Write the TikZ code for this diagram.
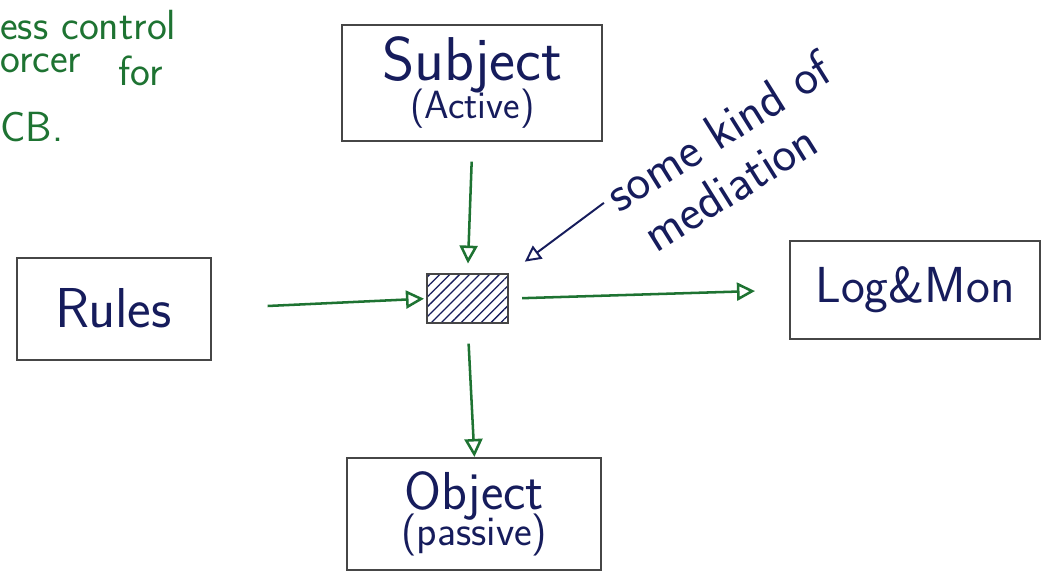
\documentclass[tikz,border=0pt]{standalone}
\usetikzlibrary{arrows.meta,patterns.meta}
\definecolor{pengreen}{RGB}{30,115,50}
\definecolor{penblue}{RGB}{22,28,92}
\definecolor{pencil}{RGB}{70,70,70}
\begin{document}
\begin{tikzpicture}[
  box/.style={draw=pencil,line width=1.5pt,text=penblue,align=center,font=\sffamily},
  flow/.style={draw=pengreen,line width=1.8pt,-{Triangle[open,length=4.5mm,width=4.5mm]}},
  note/.style={text=penblue,font=\sffamily\fontsize{36}{40}\selectfont,rotate=32,inner sep=1pt},
  scrap/.style={text=pengreen,font=\sffamily\fontsize{30}{34}\selectfont,anchor=west,inner sep=0pt}
]
\useasboundingbox (0,0) rectangle (26.35,14.625);

% cut-off text at the top left
\node[scrap] (scrapa) at (0,14.0) {ess control};
\node[scrap] (scrapb) at (0,13.05) {orcer};
\node[scrap] (scrapc) at (2.95,12.85) {for};
\node[scrap] (scrapd) at (0,11.45) {CB.};

% the boxes
\node[box,minimum width=6.5cm,minimum height=2.9cm] (subject) at (11.81,12.56)
  {{\fontsize{44}{40}\selectfont Subject}\\[-4pt]{\fontsize{28}{30}\selectfont (Active)}};
\node[box,minimum width=4.85cm,minimum height=2.55cm,font=\sffamily\fontsize{40}{44}\selectfont] (rules) at (2.84,6.91) {Rules};
\node[box,minimum width=6.25cm,minimum height=2.45cm,font=\sffamily\fontsize{36}{40}\selectfont] (logmon) at (22.875,7.375) {Log\&Mon};
\node[box,minimum width=6.35cm,minimum height=2.8cm] (object) at (11.86,1.775)
  {{\fontsize{38}{40}\selectfont Object}\\[-6pt]{\fontsize{30}{32}\selectfont (passive)}};

% the mediator
\node[draw=pencil,line width=1.5pt,minimum width=2.03cm,minimum height=1.22cm,
  pattern={Lines[angle=45,distance=5pt,line width=0.9pt]},pattern color=penblue] (mon) at (11.69,7.16) {};

\draw[flow,shorten <=0.5cm,shorten >=0.25cm] (subject.south) -- (mon.north);
\draw[flow,shorten <=1.4cm,shorten >=0.06cm] (rules.east) -- (mon.west);
\draw[flow,shorten <=0.33cm,shorten >=0.85cm] (mon.east) -- (logmon.west);
\draw[flow,shorten <=0.5cm] (mon.south) -- (object.north);

% note
\node[note] (notea) at (17.95,11.35) {some kind of};
\node[note] (noteb) at (18.25,9.95) {mediation};
\draw[penblue,line width=1.4pt,shorten <=0.15cm,shorten >=0.5cm,-{Triangle[open,length=4mm,width=4mm]}] (notea.west) -- (mon.north east);
\end{tikzpicture}
\end{document}
